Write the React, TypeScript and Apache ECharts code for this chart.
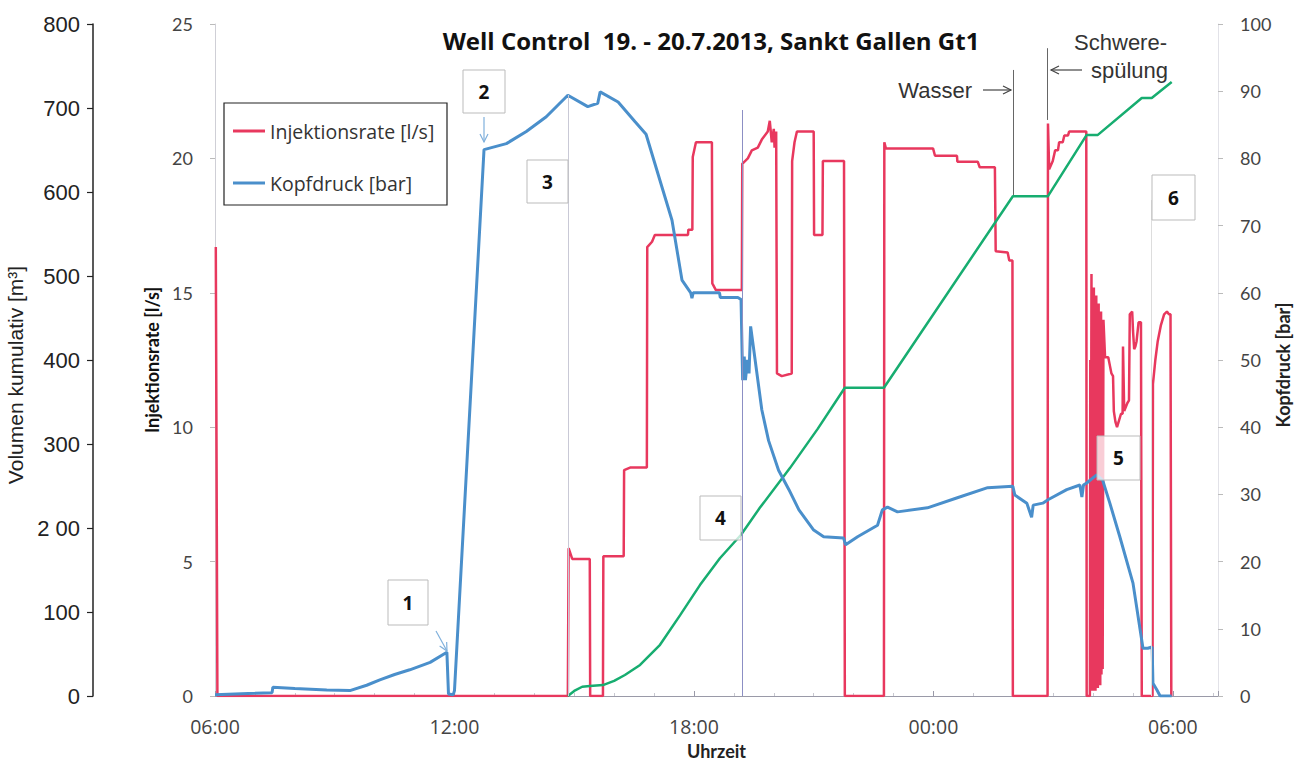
import React, { useEffect, useRef } from "react";
import * as echarts from "echarts";

// Time axis: hours counted from 19.7.2013 00:00 (30 = 20.7. 06:00)
const X_MIN = 6;
const X_MAX = 31.13;
const X_INTERVAL = 6;
const X_LABEL_HOURS = [6, 12, 18, 24, 30];

const RATE_MAX = 25;
const RATE_INTERVAL = 5;
const PRESSURE_MAX = 100;
const PRESSURE_INTERVAL = 10;
const VOLUME_MAX = 800;
const VOLUME_INTERVAL = 100;

const TITLE = "Well Control  19. - 20.7.2013, Sankt Gallen Gt1";
const NAME_RATE = "Injektionsrate [l/s]";
const NAME_PRESSURE = "Kopfdruck [bar]";
const NAME_VOLUME = "Volumen kumulativ [m³]";
const NAME_TIME = "Uhrzeit";

// Injektionsrate [l/s]  [time (h), value]
const injektionsrate: [number, number][] = [
  [6.02, 16.7], [6.06, 0], [14.84, 0], [14.86, 5.5], [14.95, 5.1], [15.39, 5.1], [15.4, 0],
  [15.72, 0], [15.73, 5.2], [16.24, 5.2], [16.25, 8.4], [16.4, 8.5], [16.82, 8.5],
  [16.83, 16.7], [16.95, 16.9], [17.02, 17.15], [17.85, 17.15], [17.86, 17.35], [17.96, 17.35],
  [17.97, 20.05], [18.05, 20.6], [18.45, 20.6], [18.46, 15.35], [18.55, 15.1], [19.2, 15.1],
  [19.21, 19.8], [19.35, 20.0], [19.45, 20.3], [19.6, 20.4], [19.7, 20.7], [19.85, 21.0],
  [19.9, 21.4], [19.95, 20.6], [20.0, 21.1], [20.02, 20.4], [20.06, 21.0], [20.08, 12.0],
  [20.2, 11.9], [20.45, 12.0], [20.46, 19.9], [20.52, 20.6], [20.58, 21.0], [21.0, 21.0],
  [21.01, 17.15], [21.22, 17.15], [21.23, 19.9], [21.76, 19.9], [21.78, 0], [22.76, 0],
  [22.77, 20.6], [22.81, 20.37], [23.99, 20.37], [24.04, 20.1], [24.59, 20.1], [24.6, 19.88],
  [25.11, 19.88], [25.16, 19.67], [25.54, 19.67], [25.56, 16.55], [25.86, 16.5], [25.9, 16.2],
  [25.98, 16.2], [25.99, 0], [26.86, 0], [26.87, 21.3], [26.9, 19.6], [26.99, 19.9],
  [27.05, 20.3], [27.12, 20.3], [27.15, 20.6], [27.24, 20.6], [27.28, 20.85], [27.37, 20.85],
  [27.4, 21.0], [27.83, 21.0], [27.84, 0], [27.92, 0], [27.93, 12.5], [27.94, 0.2],
  [27.96, 15.7], [27.97, 0.3], [27.99, 14.8], [28.0, 0.2], [28.02, 15.2], [28.03, 0.4],
  [28.05, 14.4], [28.06, 0.2], [28.08, 14.9], [28.09, 0.5], [28.11, 14.0], [28.12, 0.3],
  [28.14, 14.6], [28.15, 0.6], [28.17, 13.8], [28.18, 0.4], [28.2, 14.3], [28.21, 0.8],
  [28.23, 13.5], [28.24, 1.0], [28.26, 14.0], [28.3, 12.6], [28.38, 12.6], [28.42, 12.3],
  [28.46, 12.0], [28.5, 11.9], [28.52, 10.6], [28.56, 10.2], [28.6, 10.0], [28.64, 10.2],
  [28.7, 10.5], [28.74, 10.5], [28.75, 13.0], [28.78, 10.6], [28.86, 10.9], [28.9, 11.0],
  [28.92, 14.2], [28.98, 14.3], [29.0, 13.6], [29.03, 12.9], [29.06, 13.0], [29.09, 13.2],
  [29.14, 13.9], [29.2, 13.9], [29.22, 0], [29.49, 0], [29.5, 11.6], [29.56, 12.5],
  [29.62, 13.2], [29.7, 13.8], [29.78, 14.2], [29.85, 14.3], [29.9, 14.2], [29.94, 14.2],
  [29.96, 0],
];

// Kopfdruck [bar]  [time (h), value]
const kopfdruck: [number, number][] = [
  [6.0, 0.2], [6.5, 0.3], [7.0, 0.4], [7.43, 0.5], [7.45, 1.3], [8.0, 1.1], [8.8, 0.9],
  [9.38, 0.8], [9.8, 1.6], [10.13, 2.4], [10.5, 3.2], [10.88, 3.9], [11.39, 5.0], [11.81, 6.5],
  [11.85, 0.3], [11.97, 0.2], [12.0, 0.8], [12.74, 81.3], [13.3, 82.2], [13.8, 84.0],
  [14.3, 86.2], [14.84, 89.4], [15.34, 87.7], [15.59, 88.2], [15.65, 89.9], [16.1, 88.4],
  [16.52, 85.5], [16.8, 83.6], [17.2, 75.7], [17.45, 70.8], [17.7, 61.9], [17.92, 60.0],
  [17.95, 59.2], [17.98, 60.0], [18.64, 60.0], [18.66, 59.3], [19.1, 59.3], [19.18, 59.0],
  [19.22, 47.0], [19.26, 50.5], [19.29, 47.0], [19.34, 50.0], [19.38, 48.0], [19.42, 55.0],
  [19.7, 42.6], [19.87, 38.0], [20.12, 33.6], [20.38, 30.7], [20.63, 27.7], [21.0, 24.7],
  [21.25, 23.7], [21.75, 23.5], [21.8, 22.5], [22.1, 23.7], [22.6, 25.4], [22.72, 27.7],
  [22.85, 28.1], [23.1, 27.4], [23.85, 28.0], [24.6, 29.5], [25.36, 31.0], [25.99, 31.2],
  [26.04, 29.9], [26.34, 28.7], [26.46, 26.6], [26.5, 28.4], [26.74, 28.7], [26.87, 29.2],
  [27.34, 30.7], [27.67, 31.4], [27.72, 29.6], [27.76, 31.4], [27.84, 31.7], [28.09, 32.9],
  [28.24, 32.1], [28.42, 28.7], [28.67, 23.7], [29.0, 16.8], [29.25, 7.1], [29.37, 7.1],
  [29.48, 7.3], [29.5, 1.9], [29.6, 0.9], [29.68, 0], [29.97, 0],
];

// Volumen kumulativ [m³]  [time (h), value]
const volumen: [number, number][] = [
  [14.84, 0], [15.0, 6], [15.2, 11], [15.39, 12], [15.72, 13], [16.0, 18], [16.27, 25],
  [16.65, 37], [17.15, 61], [17.65, 96], [18.15, 132], [18.65, 164], [19.18, 192],
  [19.65, 224], [20.4, 271], [21.1, 318], [21.78, 367], [22.76, 367], [25.99, 595],
  [26.87, 595], [27.84, 668], [28.12, 668], [29.22, 712], [29.47, 712], [29.97, 731],
];

// Vertical marker lines (time, from, to on the rate axis)
const markerLines = [
  { x: 14.84, from: 0, to: 22.36, color: "#c9c9d6" },
  { x: 19.2, from: 0, to: 21.8, color: "#8c8fc4" },
  { x: 26.0, from: 18.64, to: 23.29, color: "#666666" },
  { x: 26.86, from: 21.43, to: 24.1, color: "#666666" },
  { x: 29.47, from: 0, to: 18.45, color: "#dddddd" },
];

// numbered annotation boxes (pixel layout)
const boxes = [
  { label: "1", x: 388, y: 580, w: 40, h: 45 },
  { label: "2", x: 463, y: 70, w: 42, h: 43 },
  { label: "3", x: 527, y: 160, w: 41, h: 43 },
  { label: "4", x: 700, y: 496, w: 41, h: 44 },
  { label: "5", x: 1097, y: 436, w: 43, h: 44 },
  { label: "6", x: 1152, y: 175, w: 43, h: 45 },
];

const SANS = "'Open Sans', Lato, sans-serif";
const LATO = "Lato, 'Open Sans', sans-serif";
const ARIAL = "'Liberation Sans', Arial, sans-serif";

function arrow(x1: number, y1: number, x2: number, y2: number, color: string) {
  const dx = x2 - x1;
  const dy = y2 - y1;
  const len = Math.sqrt(dx * dx + dy * dy);
  const ux = dx / len;
  const uy = dy / len;
  const px = -uy;
  const py = ux;
  const hl = 8;
  const hw = 4;
  return [
    { type: "line", z: 100, shape: { x1, y1, x2, y2 }, style: { stroke: color, lineWidth: 1.2 } },
    {
      type: "polyline",
      z: 100,
      shape: {
        points: [
          [x2 - ux * hl + px * hw, y2 - uy * hl + py * hw],
          [x2, y2],
          [x2 - ux * hl - px * hw, y2 - uy * hl - py * hw],
        ],
      },
      style: { stroke: color, lineWidth: 1.2, fill: "none" },
    },
  ];
}

function pad2(n: number) {
  return (n < 10 ? "0" : "") + n;
}

export default function App() {
  const ref = useRef<HTMLDivElement>(null);
  useEffect(() => {
    if (!ref.current) return;
    const chart = echarts.init(ref.current, null, { renderer: "svg" });

    const graphics: any[] = [
      {
        type: "text",
        z: 100,
        style: {
          x: 711,
          y: 40,
          text: TITLE,
          fill: "#111",
          font: `bold 24px ${SANS}`,
          align: "center",
          verticalAlign: "middle",
        },
      },
      {
        type: "rect",
        z: 1,
        shape: { x: 224, y: 103, width: 223, height: 102 },
        style: { fill: "#fff", stroke: "#222", lineWidth: 1.2 },
      },
      ...boxes.flatMap((b) => [
        {
          type: "rect",
          z: 100,
          shape: { x: b.x, y: b.y, width: b.w, height: b.h },
          style: { fill: "rgba(255,255,255,0.75)", stroke: "#bbbbbb", lineWidth: 1 },
        },
        {
          type: "text",
          z: 101,
          style: {
            x: b.x + b.w / 2,
            y: b.y + b.h / 2,
            text: b.label,
            fill: "#111",
            font: `bold 19px ${SANS}`,
            align: "center",
            verticalAlign: "middle",
          },
        },
      ]),
      ...arrow(436, 631, 447, 651, "#7fb0dc"),
      ...arrow(484, 117, 484, 142, "#7fb0dc"),
      ...arrow(983, 90, 1011, 90, "#444"),
      ...arrow(1082, 70, 1051, 70, "#444"),
      {
        type: "text",
        z: 100,
        style: { x: 972, y: 90, text: "Wasser", fill: "#333", font: `22px ${ARIAL}`, align: "right", verticalAlign: "middle" },
      },
      {
        type: "text",
        z: 100,
        style: { x: 1167, y: 42, text: "Schwere-", fill: "#333", font: `22px ${ARIAL}`, align: "right", verticalAlign: "middle" },
      },
      {
        type: "text",
        z: 100,
        style: { x: 1168, y: 70, text: "spülung", fill: "#333", font: `22px ${ARIAL}`, align: "right", verticalAlign: "middle" },
      },
    ];

    chart.setOption({
      animation: false,
      backgroundColor: "#fff",
      grid: { left: 215, right: 78, top: 24, bottom: 65, containLabel: false, outerBoundsMode: "none" },
      legend: {
        left: 233,
        top: 121,
        orient: "vertical",
        itemGap: 32,
        itemWidth: 32,
        itemHeight: 3,
        icon: "rect",
        padding: 0,
        textStyle: { fontFamily: SANS, fontSize: 19.5, color: "#333" },
        data: [NAME_RATE, NAME_PRESSURE],
      },
      xAxis: {
        type: "value",
        min: X_MIN,
        max: X_MAX,
        interval: X_INTERVAL,
        name: NAME_TIME,
        nameLocation: "middle",
        nameGap: 46,
        nameTextStyle: { fontFamily: LATO, fontSize: 18, fontWeight: "bold", color: "#222" },
        axisLine: { onZero: false, lineStyle: { color: "#9a9aa8", width: 1 } },
        axisTick: { show: true, inside: true, length: 5, lineStyle: { color: "#9a9aa8" } },
        minorTick: { show: true, splitNumber: 6, length: 3, lineStyle: { color: "#c8c8d0" } },
        splitLine: { show: false },
        axisLabel: {
          margin: 20,
          fontFamily: SANS,
          fontSize: 19.5,
          color: "#444",
          showMaxLabel: false,
          formatter: (v: number) => {
            const hit = X_LABEL_HOURS.find((h) => Math.abs(h - v) < 1e-6);
            if (hit === undefined) return "";
            return pad2(hit % 24) + ":00";
          },
        },
      },
      yAxis: [
        {
          type: "value",
          position: "left",
          min: 0,
          max: RATE_MAX,
          interval: RATE_INTERVAL,
          name: NAME_RATE,
          nameLocation: "middle",
          nameGap: 52,
          nameTextStyle: { fontFamily: LATO, fontSize: 18, fontWeight: "bold", color: "#111" },
          axisLine: { show: true, lineStyle: { color: "#cfcfd6" } },
          axisTick: { show: true, length: 5, lineStyle: { color: "#bbbbbb" } },
          splitLine: { show: false },
          axisLabel: { margin: 22, fontFamily: LATO, fontSize: 18, color: "#444" },
        },
        {
          type: "value",
          position: "right",
          min: 0,
          max: PRESSURE_MAX,
          interval: PRESSURE_INTERVAL,
          name: NAME_PRESSURE,
          nameLocation: "middle",
          nameGap: 56,
          nameMoveOverlap: false,
          nameTextStyle: { fontFamily: LATO, fontSize: 18, fontWeight: "bold", color: "#222", padding: [0, 10, 0, 0] },
          axisLine: { show: true, lineStyle: { color: "#e2e2e8" } },
          axisTick: { show: true, length: 5, lineStyle: { color: "#bbbbbb" } },
          splitLine: { show: false },
          axisLabel: { margin: 22, fontFamily: LATO, fontSize: 18, color: "#444" },
        },
        {
          type: "value",
          position: "left",
          offset: 122,
          min: 0,
          max: VOLUME_MAX,
          interval: VOLUME_INTERVAL,
          name: NAME_VOLUME,
          nameLocation: "middle",
          nameGap: 61,
          nameTextStyle: { fontFamily: ARIAL, fontSize: 21, color: "#222", padding: [0, 30, 0, 0] },
          axisLine: { show: true, lineStyle: { color: "#222", width: 1.5 } },
          axisTick: { show: true, length: 6, lineStyle: { color: "#222", width: 1.2 } },
          splitLine: { show: false },
          axisLabel: {
            margin: 13,
            fontFamily: ARIAL,
            fontSize: 22,
            color: "#222",
            formatter: (v: number) => (v === 200 ? "2 00" : String(v)),
          },
        },
      ],
      series: [
        {
          name: NAME_RATE,
          type: "line",
          yAxisIndex: 0,
          data: injektionsrate,
          symbol: "none",
          z: 2,
          color: "#e8385e",
          lineStyle: { color: "#e8385e", width: 2.5 },
          markLine: {
            silent: true,
            symbol: ["none", "none"],
            label: { show: false },
            data: markerLines.map((m) => [
              { coord: [m.x, m.from], lineStyle: { color: m.color, width: 1, type: "solid" } },
              { coord: [m.x, m.to] },
            ]),
          },
        },
        {
          name: NAME_VOLUME,
          type: "line",
          yAxisIndex: 2,
          data: volumen,
          symbol: "none",
          z: 3,
          color: "#17ad70",
          lineStyle: { color: "#17ad70", width: 2.5 },
        },
        {
          name: NAME_PRESSURE,
          type: "line",
          yAxisIndex: 1,
          data: kopfdruck,
          symbol: "none",
          z: 4,
          color: "#4a8fcb",
          lineStyle: { color: "#4a8fcb", width: 3 },
        },
      ],
      graphic: graphics,
    });

    return () => chart.dispose();
  }, []);

  return (
    <div
      ref={ref}
      style={{ position: "fixed", left: 0, top: 0, width: 1296, height: 761, background: "#fff" }}
    />
  );
}
